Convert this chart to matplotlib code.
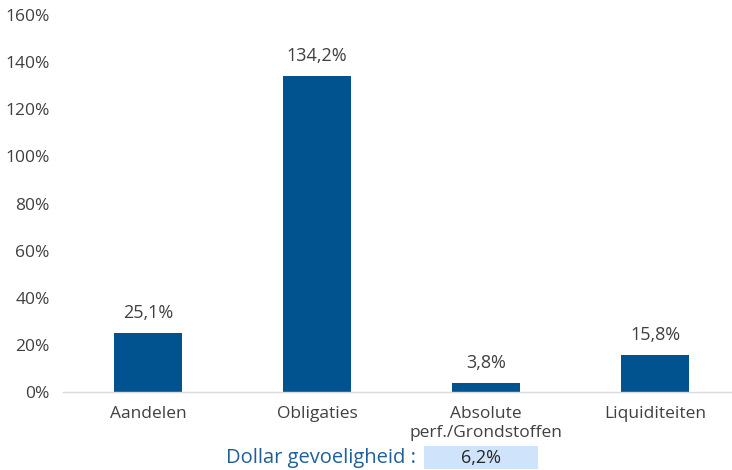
import matplotlib
matplotlib.use("Agg")
import matplotlib.pyplot as plt
from matplotlib.patches import Rectangle

categories = ["Aandelen", "Obligaties", "Absolute\nperf./Grondstoffen", "Liquiditeiten"]
values = [25.1, 134.2, 3.8, 15.8]
yticks = [0, 20, 40, 60, 80, 100, 120, 140, 160]
dollar_label = "Dollar gevoeligheid :"
dollar_value = 6.2

plt.rcParams["font.family"] = ["Open Sans", "DejaVu Sans"]

W, H = 732, 470
fig = plt.figure(figsize=(W / 100, H / 100), dpi=100)
# axes in pixel terms: x from 63.5 to 739.5, y baseline at 392, top at 15
left, right = 63.5, 739.5
bottom, top = 392, 15
ax = fig.add_axes([left / W, 1 - bottom / H, (right - left) / W, (bottom - top) / H])

bar_color = "#00538F"
x = range(len(categories))
ax.bar(x, values, width=0.4, color=bar_color)
ax.set_xlim(-0.5, 3.5)
ax.set_ylim(0, 160)
ax.set_yticks(yticks)
ax.set_yticklabels([f"{t}%" for t in yticks])
ax.set_xticks(list(x))
ax.set_xticklabels(categories, linespacing=1.25)

for s in ["top", "right", "left"]:
    ax.spines[s].set_visible(False)
ax.spines["bottom"].set_color("#d9d9d9")
ax.spines["bottom"].set_linewidth(1.0)
ax.tick_params(axis="y", length=0, labelsize=12.5, colors="#404040", pad=10)
ax.tick_params(axis="x", length=0, labelsize=12.5, colors="#404040", pad=10)

for xi, v in zip(x, values):
    ax.annotate(f"{v:.1f}%".replace(".", ","), (xi, v), xytext=(0, 8),
                textcoords="offset points", ha="center", va="bottom",
                fontsize=13, color="#404040")

# dollar sensitivity box below the axis
fig.text(416 / W, 1 - 458 / H, dollar_label, ha="right", va="center",
         fontsize=14.5, color="#1F5F9A")
fig.patches.append(Rectangle((424 / W, 1 - 469 / H), 114 / W, 23 / H,
                             transform=fig.transFigure, facecolor="#CFE4FB",
                             edgecolor="none"))
fig.text(481 / W, 1 - 458 / H, f"{dollar_value:.1f}%".replace(".", ","),
         ha="center", va="center", fontsize=13, color="#262626")

fig.savefig("out.png", dpi=100)
